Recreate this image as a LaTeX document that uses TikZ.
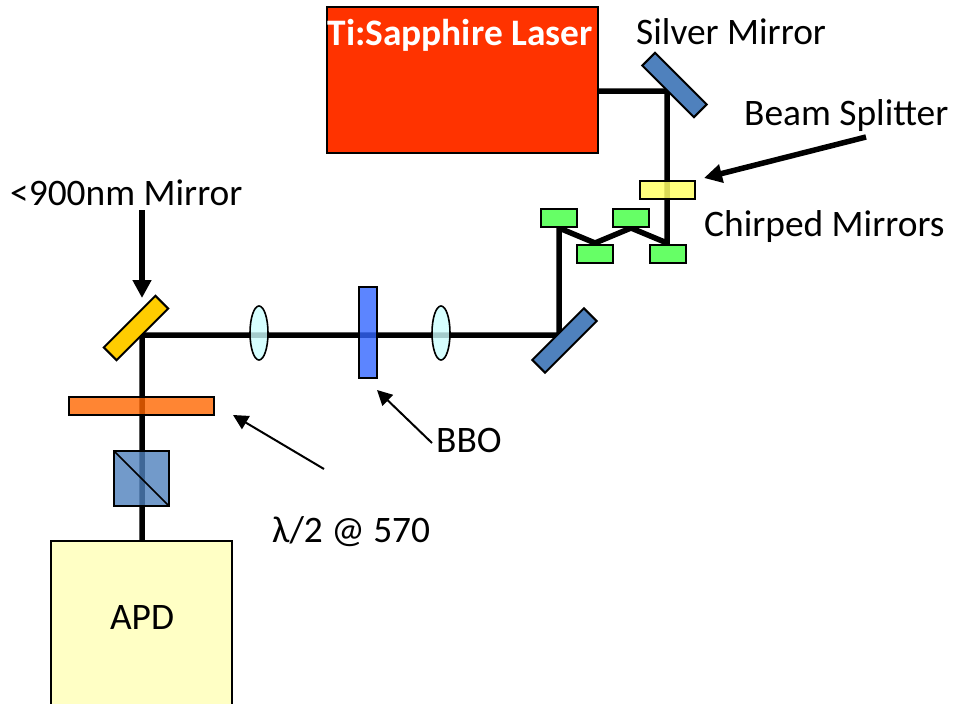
\documentclass[tikz,border=0pt]{standalone}
\usepackage{fontspec}
\setmainfont{Carlito}
\usetikzlibrary{arrows.meta,shapes.geometric}
\pgfdeclarelayer{beams}
\pgfsetlayers{beams,main}
\definecolor{laserred}{HTML}{FF3300}
\definecolor{steelblue}{HTML}{4F81BD}
\definecolor{splityellow}{HTML}{FFFF66}
\definecolor{chirpgreen}{HTML}{66FF66}
\definecolor{lenscyan}{HTML}{CCFFFF}
\definecolor{bboblue}{HTML}{3366FF}
\definecolor{mirroryellow}{HTML}{FFCC00}
\definecolor{plateorange}{HTML}{FF6600}
\definecolor{apdyellow}{HTML}{FFFFC5}
\tikzset{
  x=1pt,y=-1pt,
  part/.style={draw=black,line width=2pt,inner sep=0pt,outer sep=0pt,rectangle},
  mirror/.style={part,minimum width=73pt,minimum height=18pt},
  chirp/.style={part,fill=chirpgreen,minimum width=36pt,minimum height=18pt},
  lens/.style={draw=black,line width=1.6pt,ellipse,inner sep=0pt,outer sep=0pt,minimum width=18pt,minimum height=54pt,fill=lenscyan,fill opacity=.8},
  beam/.style={draw=black,line width=5.5pt,line join=miter},
  label/.style={anchor=base west,inner sep=0pt,font=\fontsize{37.4}{45}\selectfont},
  bigarrow/.style={draw=black,line width=5.5pt,-{Triangle[length=18pt,width=18pt]}},
  thinarrow/.style={draw=black,line width=2pt,-{Triangle[length=15pt,width=15pt]}},
}
\begin{document}
\begin{tikzpicture}
\useasboundingbox (0,0) rectangle (953,704);
% components
\node[part,fill=laserred,minimum width=271pt,minimum height=146pt] (laser) at (462.5,80) {};
\node[anchor=base,inner sep=0pt,text=white,font=\fontsize{37.4}{45}\selectfont\bfseries] (lasertext) at (460,45) {Ti:Sapphire Laser};
\node[mirror,fill=steelblue,rotate=-45] (silver) at (674.5,85) {};
\node[part,fill=splityellow,fill opacity=.85,minimum width=55pt,minimum height=18pt] (splitter) at (667.5,190) {};
\node[chirp] (c1) at (558.5,218) {};
\node[chirp] (c2) at (631,218) {};
\node[chirp] (c3) at (594.5,254) {};
\node[chirp] (c4) at (667.5,254) {};
\node[mirror,fill=steelblue,rotate=45] (lower) at (564.5,340.5) {};
\node[lens] (lensB) at (441,333) {};
\node[part,fill=bboblue,fill opacity=.8,minimum width=18pt,minimum height=91pt] (bbo) at (368,332.5) {};
\node[lens] (lensA) at (259,333) {};
\node[mirror,fill=mirroryellow,rotate=45] (gold) at (136,328) {};
\node[part,fill=plateorange,fill opacity=.8,minimum width=145pt,minimum height=18pt] (plate) at (141.5,406) {};
\node[part,line width=1.2pt,fill=steelblue,fill opacity=.8,minimum width=55pt,minimum height=55pt] (cube) at (141.5,478.5) {};
\draw[line width=1.5pt] (cube.north west) -- (cube.south east);
\node[part,fill=apdyellow,minimum width=181pt,minimum height=164pt] (apd) at (141.5,623) {};
\node[anchor=base,inner sep=0pt,font=\fontsize{37.4}{45}\selectfont] (apdtext) at (142,629) {APD};
% beam corner points
\coordinate (s) at (667,91);
\coordinate (p1) at (667,243);
\coordinate (p2) at (631,228);
\coordinate (p3) at (595,243);
\coordinate (p4) at (559,228);
\coordinate (q) at (559,335);
\coordinate (g) at (142,335);
% beams
\begin{pgfonlayer}{beams}
\draw[beam] (laser.east |- s) -- (s) -- (p1) -- (p2) -- (p3) -- (p4) -- (q) -- (g) -- (g |- apd.north);
\end{pgfonlayer}
% labels
\node[label] (silverlabel) at (636,44) {Silver Mirror};
\node[label] (splitlabel) at (744,125) {Beam Splitter};
\node[label] (chirplabel) at (704,236) {Chirped Mirrors};
\node[label] (goldlabel) at (10,205) {<900nm Mirror};
\node[label] (bbolabel) at (436,452) {BBO};
\node[label] (platelabel) at (272,542) {λ/2 @ 570};
% arrows
\coordinate (a1s) at (866,137);
\coordinate (a1e) at (704,178);
\coordinate (a2s) at (142,210);
\coordinate (a2e) at (142,298);
\coordinate (a3s) at (432,443);
\coordinate (a3e) at (377,390);
\coordinate (a4s) at (324,469);
\coordinate (a4e) at (233,415);
\draw[bigarrow] (a1s) -- (a1e);
\draw[bigarrow] (a2s) -- (a2e);
\draw[thinarrow] (a3s) -- (a3e);
\draw[thinarrow] (a4s) -- (a4e);
\end{tikzpicture}
\end{document}
